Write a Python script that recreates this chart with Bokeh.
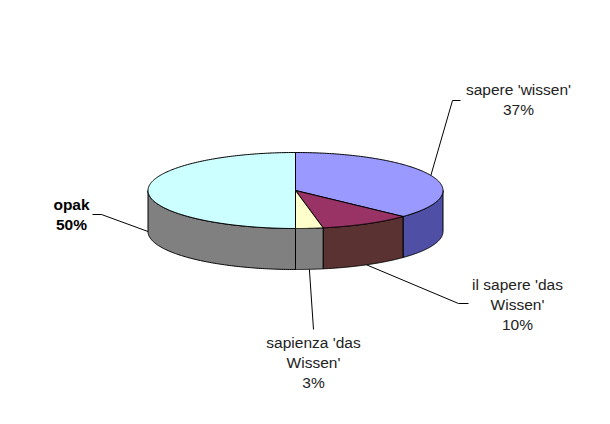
import numpy as np
from bokeh.plotting import figure
from bokeh.models import Range1d
from bokeh.core.properties import value
from bokeh.embed import file_html
from bokeh.resources import INLINE

# data
categories = ["sapere 'wissen'", "il sapere 'das Wissen'", "sapienza 'das Wissen'", "opak"]
percent = [37, 10, 3, 50]
label_lines = [["sapere 'wissen'", "37%"],
               ["il sapere 'das", "Wissen'", "10%"],
               ["sapienza 'das", "Wissen'", "3%"],
               ["opak", "50%"]]
top_colors = ["#9999FF", "#993366", "#FFFFCC", "#CCFFFF"]
side_colors = ["#4F4FA6", "#5A3232", "#808080", "#808080"]

# layout (page pixels)
CX, CY, RX, RY, DEPTH = 295, 190, 147.5, 38, 41
elbows = [(452, 100, 460), (458, 303, 468), (313, 329, 313), (101, 214, 92)]
label_pos = [(518, 89), (517, 284), (313, 342), (71, 204)]
LINE_GAP = 20.2

p = figure(width=594, height=408, output_backend="svg", toolbar_location=None,
           x_range=Range1d(0, 594), y_range=Range1d(408, 0),
           min_border=0, outline_line_color=None, background_fill_color="white",
           border_fill_color="white")
p.axis.visible = False
p.grid.visible = False


def ell(a, dy=0.0):
    return CX + RX * np.sin(a), CY - RY * np.cos(a) + dy


bounds = np.radians(np.concatenate([[0], np.cumsum(percent)]) * 3.6)

# side walls (visible lower half only)
for i in range(len(percent)):
    a0, a1 = max(bounds[i], np.pi / 2), min(bounds[i + 1], 3 * np.pi / 2)
    if a1 <= a0:
        continue
    t = np.linspace(a0, a1, 120)
    xt, yt = ell(t)
    xb, yb = ell(t[::-1], DEPTH)
    p.patch(np.concatenate([xt, xb]), np.concatenate([yt, yb]),
            fill_color=side_colors[i], line_color="black", line_width=1)

# top slices
for i in range(len(percent)):
    t = np.linspace(bounds[i], bounds[i + 1], 200)
    xt, yt = ell(t)
    p.patch(np.concatenate([[CX], xt]), np.concatenate([[CY], yt]),
            fill_color=top_colors[i], line_color="black", line_width=1)

# leaders and labels
for i in range(len(percent)):
    mid = (bounds[i] + bounds[i + 1]) / 2
    lower = np.pi / 2 <= mid <= 3 * np.pi / 2
    ax, ay = ell(mid, DEPTH if lower else 0)
    ex, ey, ex2 = elbows[i]
    p.line([ax, ex, ex2], [ay, ey, ey], line_color="black", line_width=1)
    lx, ly = label_pos[i]
    bold = categories[i] == "opak"
    for j, s in enumerate(label_lines[i]):
        p.text([lx], [ly + j * LINE_GAP], text=[s], text_align="center",
               text_baseline="middle", text_color="black" if bold else "#222222",
               text_font=value("Liberation Sans"), text_font_size="15.5px",
               text_font_style="bold" if bold else "normal")

open("out.html", "w").write(file_html(p, INLINE))
